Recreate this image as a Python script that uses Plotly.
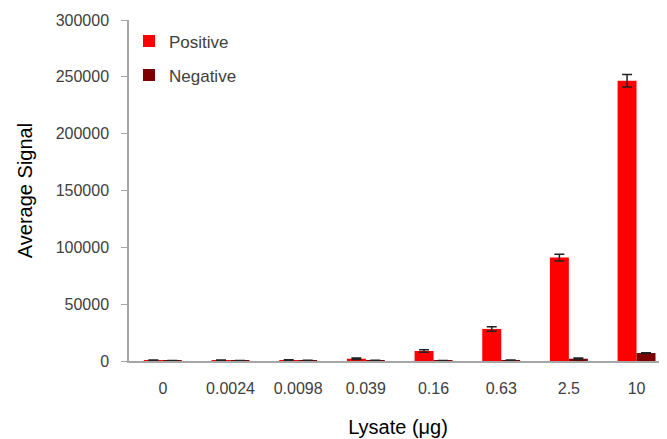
import plotly.graph_objects as go

categories = ["0", "0.0024", "0.0098", "0.039", "0.16", "0.63", "2.5", "10"]
positive = [600, 600, 700, 2000, 8800, 28200, 91000, 246500]
positive_err = [200, 200, 300, 700, 1000, 2000, 3000, 5500]
negative = [400, 400, 400, 450, 400, 600, 2000, 7000]
negative_err = [100, 100, 200, 100, 100, 200, 600, 300]

FONT = "Liberation Sans Narrow, Arial Narrow, Liberation Sans, sans-serif"

fig = go.Figure()
fig.add_trace(go.Bar(
    x=categories, y=positive, name="Positive", legendgroup="p",
    marker=dict(color="#FF0000", line=dict(width=0)),
    error_y=dict(type="data", array=positive_err, visible=True, color="#222222", thickness=1.5, width=5),
))
fig.add_trace(go.Bar(
    x=categories, y=negative, name="Negative", legendgroup="n",
    marker=dict(color="#7F0000", line=dict(width=0)),
    error_y=dict(type="data", array=negative_err, visible=True, color="#222222", thickness=1.5, width=5),
))

fig.update_layout(
    width=659, height=431,
    margin=dict(l=121, r=0, t=12, b=78),
    paper_bgcolor="white", plot_bgcolor="white",
    barmode="group", bargap=0.44, bargroupgap=0,
    font=dict(family=FONT, size=16, color="#404040"),
    showlegend=True,
    legend=dict(x=0.0, y=0.99, xanchor="left", yanchor="top",
                font=dict(family=FONT, size=17, color="#404040"),
                tracegroupgap=9, bgcolor="rgba(0,0,0,0)"),
    xaxis=dict(
        type="category", range=[-0.5, 7.45],
        showline=True, linecolor="#A6A6A6", linewidth=2,
        ticks="outside", ticklen=12, tickcolor="rgba(0,0,0,0)", showgrid=False,
        tickfont=dict(family=FONT, size=16, color="#404040"),
        title=dict(text="Lysate (\u03bcg)", font=dict(family=FONT, size=20, color="#000000"), standoff=24),
    ),
    yaxis=dict(
        range=[0, 300000], dtick=50000, tickformat="d",
        showline=True, linecolor="#A6A6A6", linewidth=1.5,
        ticks="outside", ticklen=6, tickcolor="#A6A6A6",
        ticklabelstandoff=9,
        showgrid=False, zeroline=False,
        tickfont=dict(family=FONT, size=16, color="#404040"),
        title=dict(text="Average Signal", font=dict(family=FONT, size=20, color="#000000"), standoff=18),
    ),
)

fig.write_html("out.html")
